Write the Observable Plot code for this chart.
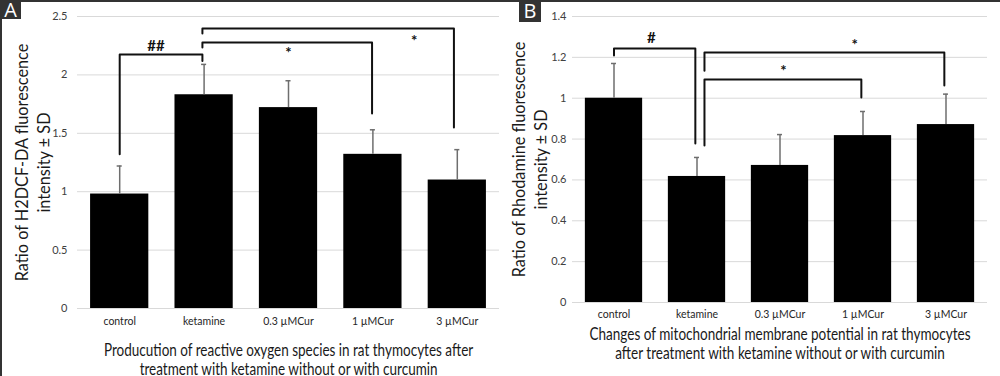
<!DOCTYPE html>
<html><head><meta charset="utf-8">
<script src="https://cdn.jsdelivr.net/npm/d3@7"></script>
<script src="https://cdn.jsdelivr.net/npm/@observablehq/plot@0.6"></script>
<style>
body{margin:0;background:#fff;}
#wrap{position:relative;width:1000px;height:376px;overflow:hidden;background:#fff;}
.panel{position:absolute;top:0;width:500px;height:376px;}
.tag{position:absolute;top:0;background:#333;color:#fff;font-family:"Open Sans",sans-serif;font-size:20px;text-align:center;}
.line{position:absolute;background:#333;}
</style></head><body>
<div id="wrap">
  <div id="panelA" class="panel" style="left:0"></div>
  <div id="panelB" class="panel" style="left:500px"></div>
  <div class="line" style="left:0;top:0;width:1000px;height:2px"></div>
  <div class="line" style="left:0;top:0;width:2px;height:376px"></div>
  <div class="tag" style="left:0;width:21px;height:19px;line-height:19px">A</div>
  <div class="tag" style="left:519px;width:22px;height:22px;line-height:22px">B</div>
</div>
<script>
const categories = ["control", "ketamine", "0.3 µMCur", "1 µMCur", "3 µMCur"];

// Panel A: ROS (H2DCF-DA)
const rosMean = [0.98, 1.83, 1.72, 1.32, 1.10];
const rosSD = [0.24, 0.26, 0.23, 0.21, 0.26];
const rosTicks = [0, 0.5, 1, 1.5, 2, 2.5];
const rosBrackets = [
  {from: 0, to: 0.98, top: 2.175, fromEnd: 1.32, toEnd: 2.12, label: "##", labelX: 0.43, labelY: 2.25},
  {from: 0.98, to: 2.99, top: 2.277, fromEnd: 2.235, toEnd: 1.67, label: "*", labelX: 2.0, labelY: 2.19},
  {from: 0.98, to: 3.96, top: 2.397, fromEnd: 2.354, toEnd: 1.55, label: "*", labelX: 3.49, labelY: 2.29}
];

// Panel B: mitochondrial membrane potential (Rhodamine)
const mmpMean = [1.00, 0.617, 0.671, 0.817, 0.871];
const mmpSD = [0.17, 0.093, 0.151, 0.118, 0.149];
const mmpTicks = [0, 0.2, 0.4, 0.6, 0.8, 1, 1.2, 1.4];
const mmpBrackets = [
  {from: 0.0, to: 0.98, top: 1.243, fromEnd: 1.209, toEnd: 0.778, label: "#", labelX: 0.45, labelY: 1.292},
  {from: 1.09, to: 3.98, top: 1.224, fromEnd: 1.135, toEnd: 1.062, label: "*", labelX: 2.90, labelY: 1.26},
  {from: 1.09, to: 2.98, top: 1.092, fromEnd: 0.769, toEnd: 1.003, label: "*", labelX: 2.04, labelY: 1.13}
];

const FONT = "Lato, 'Open Sans', sans-serif";

function panel(cfg) {
  const rows = categories.map((c, i) => ({i, c, mean: cfg.mean[i], sd: cfg.sd[i]}));
  const pts = [];
  cfg.brackets.forEach((b, k) => {
    pts.push({id: k, x: b.from, y: b.fromEnd});
    pts.push({id: k, x: b.from, y: b.top});
    pts.push({id: k, x: b.to, y: b.top});
    pts.push({id: k, x: b.to, y: b.toEnd});
  });
  const half = 0.345;
  return Plot.plot({
    width: 500,
    height: 376,
    marginLeft: cfg.ml,
    marginRight: cfg.mr,
    marginTop: 16,
    marginBottom: cfg.mb,
    style: {fontFamily: FONT, background: "transparent", color: "#333"},
    x: {domain: [-0.5, categories.length - 0.5]},
    y: {domain: [0, cfg.ticks[cfg.ticks.length - 1]]},
    marks: [
      Plot.ruleY(cfg.ticks, {stroke: "#d9d9d9", strokeWidth: 1}),
      Plot.rect(rows, {x1: d => d.i - half, x2: d => d.i + half, y1: 0, y2: "mean", fill: "#000"}),
      Plot.ruleX(rows, {x: "i", y1: "mean", y2: d => d.mean + d.sd, stroke: "#6e6e6e", strokeWidth: 1.5}),
      Plot.ruleY(rows, {y: d => d.mean + d.sd, x1: d => d.i - 0.03, x2: d => d.i + 0.03, stroke: "#6e6e6e", strokeWidth: 1.5}),
      Plot.line(pts, {x: "x", y: "y", z: "id", stroke: "#111", strokeWidth: 2}),
      Plot.text(cfg.brackets, {x: "labelX", y: "labelY", text: "label", fontSize: 15, fontWeight: "bold", fill: "#111"}),
      Plot.axisY({ticks: cfg.ticks, tickSize: 0, tickPadding: cfg.tp, tickFormat: d3.format("~g"), label: null, fontSize: 11, fill: "#404040"}),
      Plot.axisX({ticks: rows.map(d => d.i), tickSize: 0, tickPadding: cfg.xtp, tickFormat: i => categories[i], label: null, fontSize: 10.5, fill: "#262626"}),
      Plot.text([cfg.ytitle], {frameAnchor: "left", textAnchor: "middle", lineAnchor: "middle", rotate: -90, dx: cfg.ytdx, lineHeight: 1.35, fontSize: 16.3, fill: "#1a1a1a"}),
      Plot.text([cfg.xtitle], {frameAnchor: "bottom", textAnchor: "middle", lineAnchor: "middle", dy: cfg.xtdy, lineHeight: 1.12, fontSize: 17, fill: "#1a1a1a"})
    ]
  });
}

function squeeze(svg, title, target) {
  const flat = title.replace(/\n/g, "");
  svg.querySelectorAll("text").forEach(t => {
    if (t.textContent.replace(/\n/g, "") !== flat) return;
    const b = t.getBBox();
    const s = target / b.width;
    const cx = b.x + b.width / 2;
    const prev = t.getAttribute("transform") || "";
    t.setAttribute("transform", `${prev} translate(${cx},0) scale(${s},1) translate(${-cx},0)`);
  });
}

const cfgA = {
  mean: rosMean, sd: rosSD, ticks: rosTicks, brackets: rosBrackets,
  ml: 77, mr: 1, mb: 68, tp: 10, xtp: 9, ytdx: -46, xtdy: 51,
  ytitle: "Ratio of H2DCF-DA fluorescence\nintensity ± SD",
  xtitle: "Producution of reactive oxygen species in rat thymocytes after\ntreatment with ketamine without or with curcumin"
};
const cfgB = {
  mean: mmpMean, sd: mmpSD, ticks: mmpTicks, brackets: mmpBrackets,
  ml: 72, mr: 13, mb: 74, tp: 6, xtp: 8, ytdx: -44, xtdy: 40.5,
  ytitle: "Ratio of Rhodamine fluorescence\nintensity ± SD",
  xtitle: "Changes of mitochondrial membrane potential in rat thymocytes\nafter treatment with ketamine without or with curcumin"
};
const svgA = panel(cfgA);
document.getElementById("panelA").append(svgA);
const svgB = panel(cfgB);
document.getElementById("panelB").append(svgB);
squeeze(svgA, cfgA.xtitle, 370);
squeeze(svgB, cfgB.xtitle, 381);
</script>
</body></html>
